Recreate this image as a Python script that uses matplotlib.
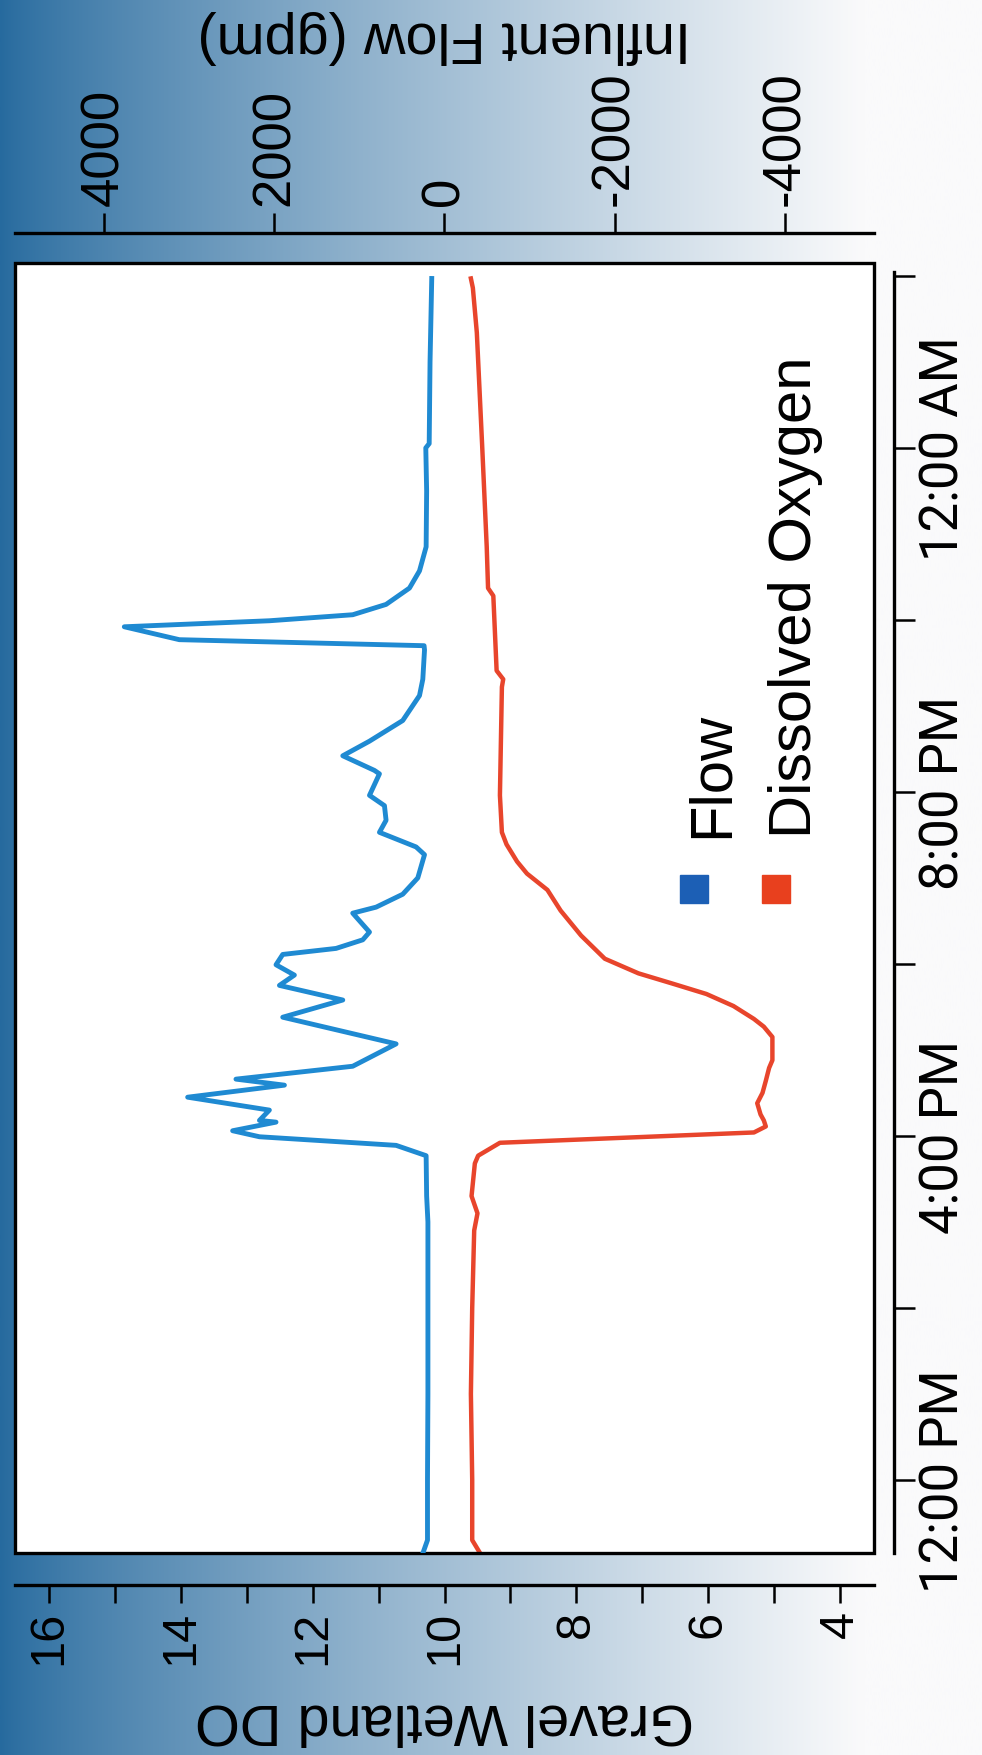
import numpy as np
import matplotlib.pyplot as plt
from matplotlib.lines import Line2D
from matplotlib.patches import Rectangle

plt.rcParams['font.family'] = ['Liberation Sans', 'DejaVu Sans']

# hours counted from midnight of day 1 (24 = 12:00 AM next day)
flow_hours = [11.16, 11.30, 12.0, 13.0, 14.0, 15.0, 15.30, 15.77, 15.89, 15.99,
              16.06, 16.16, 16.18, 16.30, 16.45, 16.59, 16.66, 16.81, 17.07, 17.38,
              17.58, 17.75, 17.87, 17.99, 18.11, 18.18, 18.28, 18.37, 18.59, 18.66,
              18.81, 19.00, 19.27, 19.36, 19.53, 19.67, 19.84, 19.96, 20.21, 20.25,
              20.42, 20.59, 20.83, 21.12, 21.31, 21.65, 21.70, 21.77, 21.92, 21.99,
              22.06, 22.18, 22.37, 22.57, 22.85, 23.5, 24.0, 24.05, 25.0, 25.97]
flow_gpm = [250, 200, 200, 195, 195, 195, 210, 216, 569, 2176,
            2491, 1981, 2176, 2059, 3020, 1882, 2452, 1079, 569, 1902,
            1196, 1941, 1765, 1981, 1902, 1275, 961, 882, 1079, 804,
            491, 314, 235, 334, 765, 687, 706, 882, 765, 824,
            1196, 882, 491, 294, 255, 235, 240, 3118, 3765, 2059,
            1079, 687, 412, 294, 216, 210, 220, 180, 170, 150]

do_hours = [11.16, 11.30, 12.0, 13.0, 14.0, 14.9, 15.1, 15.30, 15.68, 15.77,
            15.92, 16.04, 16.11, 16.18, 16.25, 16.38, 16.50, 16.64, 16.79, 16.88,
            17.15, 17.27, 17.36, 17.51, 17.65, 17.77, 17.89, 18.06, 18.33, 18.62,
            18.86, 19.05, 19.19, 19.39, 19.53, 19.96, 21.22, 21.31, 21.41, 22.28,
            22.37, 22.85, 24.04, 25.34, 25.86, 25.97]
do_mgl = [9.47, 9.58, 9.58, 9.60, 9.58, 9.55, 9.50, 9.59, 9.54, 9.49,
          9.16, 5.31, 5.13, 5.16, 5.21, 5.26, 5.18, 5.13, 5.08, 5.03,
          5.03, 5.16, 5.31, 5.62, 6.03, 6.54, 7.06, 7.57, 7.93, 8.24,
          8.44, 8.75, 8.90, 9.06, 9.13, 9.16, 9.13, 9.11, 9.21, 9.26,
          9.34, 9.36, 9.43, 9.51, 9.57, 9.60]

time_ticks = [12, 14, 16, 18, 20, 22, 24, 26]
time_labels = ["12:00 PM", "", "4:00 PM", "", "8:00 PM", "", "12:00 AM", ""]
do_ticks = [16, 15, 14, 13, 12, 11, 10, 9, 8, 7, 6, 5, 4]
do_labels = ["16", "", "14", "", "12", "", "10", "", "8", "", "6", "", "4"]
flow_ticks = [4000, 2000, 0, -2000, -4000]
flow_labels = ["4000", "2000", "0", "-2000", "-4000"]

W, H = 982, 1756
px = 0.72  # points per pixel at dpi 100
fig = plt.figure(figsize=(W / 100, H / 100), dpi=100)

# scanned page background: blue fading to white towards the right
bg = fig.add_axes([0, 0, 1, 1], zorder=-5)
xx = np.linspace(0, 1, 500)
s = np.clip(xx / 0.88, 0, 1) ** 0.8
dark = np.array([38, 106, 158]) / 255
light = np.array([250, 250, 251]) / 255
row = dark[None, :] * (1 - s[:, None]) + light[None, :] * s[:, None]
bg.imshow(np.repeat(row[None], 2, axis=0), aspect='auto', extent=[0, 1, 0, 1])
bg.axis('off')

left, right, top, bottom = 15, 874, 264, 1554
ax = fig.add_axes([left / W, 1 - bottom / H, (right - left) / W, (bottom - top) / H])
ax.set_facecolor('white')
ax.plot(do_mgl, do_hours, color='#e8452c', lw=3.2)
ax.set_xlim(16.51, 3.49)
ax.set_ylim(11.15, 26.15)

ax2 = ax.twiny()
ax2.plot(flow_gpm, flow_hours, color='#1f8ad2', lw=3.5)
ax2.set_xlim(5050, -5050)

# frame
ax.add_patch(Rectangle((0, 0), 1, 1, transform=ax.transAxes, fill=False,
                       lw=2.4, ec='black', clip_on=False, zorder=6))

for sp in ['left', 'top']:
    ax.spines[sp].set_visible(False)
for sp in ['left', 'right', 'bottom']:
    ax2.spines[sp].set_visible(False)
ax.spines['bottom'].set_position(('outward', 32 * px))
ax.spines['right'].set_position(('outward', 20 * px))
ax.spines['right'].set_bounds(11.15, 26.05)
ax2.spines['top'].set_position(('outward', 30 * px))
for sp in [ax.spines['bottom'], ax.spines['right'], ax2.spines['top']]:
    sp.set_linewidth(2.4)

ax.set_xticks(do_ticks)
ax.set_xticklabels(do_labels, rotation=90, fontsize=35)
ax.tick_params(axis='x', direction='out', length=18 * px, width=1.8, pad=5)

ax.yaxis.tick_right()
ax.set_yticks(time_ticks)
ax.set_yticklabels(time_labels, rotation=90, fontsize=38, family=['Roboto', 'DejaVu Sans'])
plt.setp(ax.get_yticklabels(), va='center')
ax.tick_params(axis='y', direction='out', length=21 * px, width=1.8, pad=2.6)

ax2.set_xticks(flow_ticks)
ax2.set_xticklabels(flow_labels, rotation=90, fontsize=38)
ax2.tick_params(axis='x', direction='out', length=20 * px, width=1.8, pad=6)

# axis titles (upside down as on the page)
fig.text(444 / W, 1 - 1720 / H, "Gravel Wetland DO", rotation=180,
         ha='center', va='center', fontsize=41.5)
fig.text(444 / W, 1 - 37 / H, "Influent Flow (gpm)", rotation=180,
         ha='center', va='center', fontsize=41.5)

# legend, drawn by hand because it is rotated
fig.add_artist(Line2D([694 / W], [1 - 890 / H], marker='s', ms=20, ls='none',
                      color='#1c5fb5', transform=fig.transFigure))
fig.add_artist(Line2D([776 / W], [1 - 890 / H], marker='s', ms=20, ls='none',
                      color='#e8401e', transform=fig.transFigure))
fig.text(728 / W, 1 - 838 / H, "Flow", rotation=90, rotation_mode='anchor',
         ha='left', va='baseline', fontsize=43)
fig.text(811 / W, 1 - 838 / H, "Dissolved Oxygen", rotation=90, rotation_mode='anchor',
         ha='left', va='baseline', fontsize=43)

fig.savefig('out.png', dpi=100)
